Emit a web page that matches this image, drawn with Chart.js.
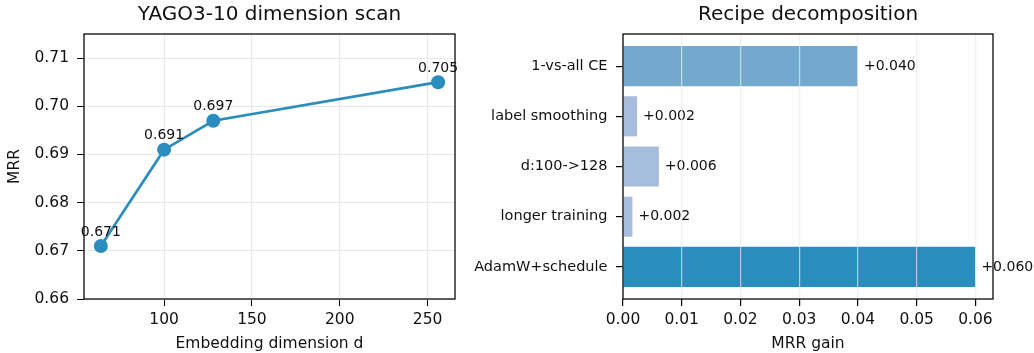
<!DOCTYPE html>
<html>
<head>
<meta charset="utf-8">
<script src="https://cdn.jsdelivr.net/npm/chart.js@4/dist/chart.umd.min.js"></script>
<style>
  body { margin: 0; background: #fff; }
  #wrap { position: relative; width: 1034px; height: 353px; }
  canvas { position: absolute; top: 0; }
</style>
</head>
<body>
<div id="wrap">
  <canvas id="scan" width="470" height="353" style="left:0"></canvas>
  <canvas id="recipe" width="574" height="353" style="left:460px"></canvas>
</div>
<script>
// dimension scan (left)
const DIMS = [64, 100, 128, 256];
const MRR = [0.671, 0.691, 0.697, 0.705];
const DIM_TICKS = [100, 150, 200, 250];
const MRR_TICKS = [0.66, 0.67, 0.68, 0.69, 0.70, 0.71];

// recipe decomposition (right)
const STEPS = ["1-vs-all CE", "label smoothing", "d:100->128", "longer training", "AdamW+schedule"];
const GAINS = [0.040, 0.0024, 0.0061, 0.0016, 0.060];
const GAIN_TICKS = [0.00, 0.01, 0.02, 0.03, 0.04, 0.05, 0.06];
const BAR_COLORS = ["#74a9cf", "#a6bddb", "#a6bddb", "#a6bddb", "#2b8cbe"];

const FONT = "'DejaVu Sans', sans-serif";
Chart.defaults.font.family = FONT;
Chart.defaults.color = "#111";

// black box round the plot, like matplotlib spines
const frame = {
  id: "frame",
  afterDraw(chart) {
    const a = chart.chartArea, ctx = chart.ctx;
    ctx.save();
    ctx.strokeStyle = "#000";
    ctx.lineWidth = 1.25;
    ctx.strokeRect(a.left, a.top, a.right - a.left, a.bottom - a.top);
    ctx.restore();
  }
};

const pointLabels = {
  id: "pointLabels",
  afterDatasetsDraw(chart) {
    const ctx = chart.ctx;
    const pts = chart.getDatasetMeta(0).data;
    ctx.save();
    ctx.font = "14px " + FONT;
    ctx.fillStyle = "#111";
    ctx.textAlign = "center";
    ctx.textBaseline = "middle";
    pts.forEach((p, i) => ctx.fillText(MRR[i].toFixed(3), p.x, p.y - 14));
    ctx.restore();
  }
};

const barLabels = {
  id: "barLabels",
  afterDatasetsDraw(chart) {
    const ctx = chart.ctx;
    const bars = chart.getDatasetMeta(0).data;
    ctx.save();
    ctx.font = "14px " + FONT;
    ctx.fillStyle = "#111";
    ctx.textAlign = "left";
    ctx.textBaseline = "middle";
    bars.forEach((b, i) => ctx.fillText("+" + GAINS[i].toFixed(3), b.x + 6, b.y));
    ctx.restore();
  }
};

function fixTicks(values) {
  return scale => { scale.ticks = values.map(v => ({ value: v })); };
}

new Chart("scan", {
  type: "line",
  data: {
    datasets: [{
      data: DIMS.map((d, i) => ({ x: d, y: MRR[i] })),
      borderColor: "#2b8cbe",
      backgroundColor: "#2b8cbe",
      borderWidth: 2.7,
      pointRadius: 7,
      pointHoverRadius: 7,
      pointBorderWidth: 0,
      tension: 0
    }]
  },
  options: {
    responsive: false,
    animation: false,
    layout: { padding: { left: 0, right: 15, top: 0, bottom: 0 } },
    plugins: {
      legend: { display: false },
      tooltip: { enabled: false },
      title: {
        display: true,
        text: "YAGO3-10 dimension scan",
        fullSize: false,
        font: { size: 20, weight: "normal" },
        color: "#111",
        padding: { top: 3, bottom: 7 }
      }
    },
    scales: {
      x: {
        type: "linear",
        min: 54.4,
        max: 265.6,
        afterBuildTicks: fixTicks(DIM_TICKS),
        afterFit: s => { s.height = 54; },
        grid: { color: "#e8e8e8", tickColor: "#000", tickLength: 7 },
        border: { display: false },
        ticks: { font: { size: 15.5 }, color: "#111", padding: 5, maxRotation: 0 },
        title: { display: true, text: "Embedding dimension d", font: { size: 15.5 }, color: "#111", padding: { top: 0, bottom: 0 } }
      },
      y: {
        type: "linear",
        min: 0.66,
        max: 0.715,
        afterBuildTicks: fixTicks(MRR_TICKS),
        afterFit: s => { s.width = 84; },
        grid: { color: "#e8e8e8", tickColor: "#000", tickLength: 7 },
        border: { display: false },
        ticks: { font: { size: 15.5 }, color: "#111", padding: 8, callback: v => v.toFixed(2) },
        title: { display: true, text: "MRR", font: { size: 15.5 }, color: "#111", padding: { top: 6, bottom: 0 } }
      }
    }
  },
  plugins: [pointLabels, frame]
});

new Chart("recipe", {
  type: "bar",
  data: {
    datasets: [{
      data: GAINS.map((g, i) => ({ x: g, y: i })),
      backgroundColor: BAR_COLORS,
      borderWidth: 0,
      categoryPercentage: 0.8,
      barPercentage: 1
    }]
  },
  options: {
    indexAxis: "y",
    responsive: false,
    animation: false,
    layout: { padding: { left: 0, right: 41, top: 0, bottom: 0 } },
    plugins: {
      legend: { display: false },
      tooltip: { enabled: false },
      title: {
        display: true,
        text: "Recipe decomposition",
        fullSize: false,
        font: { size: 20, weight: "normal" },
        color: "#111",
        padding: { top: 3, bottom: 7 }
      }
    },
    scales: {
      x: {
        type: "linear",
        min: 0,
        max: 0.063,
        afterBuildTicks: fixTicks(GAIN_TICKS),
        afterFit: s => { s.height = 54; },
        // grid drawn over the bars, as in the original
        grid: { z: 1, color: "rgba(235,235,235,0.7)", lineWidth: 1.2, tickColor: "#000", tickLength: 7 },
        border: { display: false },
        ticks: { font: { size: 15.5 }, color: "#111", padding: 5, maxRotation: 0, callback: v => v.toFixed(2) },
        title: { display: true, text: "MRR gain", font: { size: 15.5 }, color: "#111", padding: { top: 0, bottom: 0 } }
      },
      y: {
        type: "linear",
        min: -0.64,
        max: 4.64,
        reverse: true,
        offset: false,
        afterBuildTicks: fixTicks(STEPS.map((s, i) => i)),
        afterFit: s => { s.width = 163; },
        grid: { offset: false, drawOnChartArea: false, tickColor: "#000", tickLength: 7, lineWidth: 1.2 },
        border: { display: false },
        ticks: { font: { size: 14.5 }, color: "#111", padding: 8.5, callback: v => STEPS[v] }
      }
    }
  },
  plugins: [barLabels, frame]
});
</script>
</body>
</html>
